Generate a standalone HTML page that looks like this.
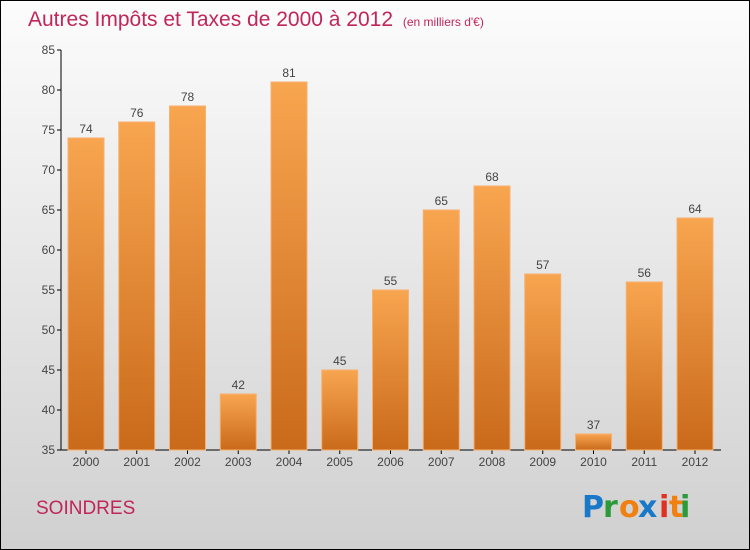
<!DOCTYPE html>
<html><head><meta charset="utf-8"><style>
html,body{margin:0;padding:0}
body{width:750px;height:550px;overflow:hidden;font-family:"Liberation Sans","DejaVu Sans",sans-serif}
#frame{position:absolute;left:0;top:0;width:748px;height:548px;border:1px solid #000;background:linear-gradient(#fcfcfc,#d0d0d0)}
</style></head><body>
<div id="frame"></div>
<svg id="chart" width="750" height="550" style="position:absolute;left:0;top:0">
<defs>
<linearGradient id="bg" x1="0" y1="0" x2="0" y2="1"><stop offset="0" stop-color="#f8a550"/><stop offset="1" stop-color="#c96a1a"/></linearGradient>
</defs>
<text x="28" y="26" font-size="21" fill="#c0265a">Autres Impôts et Taxes de 2000 à 2012 <tspan font-size="12" dx="4">(en milliers d'€)</tspan></text>
<text x="36" y="514" font-size="19" fill="#c0265a">SOINDRES</text>
<g font-size="30" font-weight="bold" font-family="'DejaVu Sans',sans-serif">
<text x="582" y="517" fill="#1a78c8">P</text><text x="603" y="517" fill="#2a9a3a">r</text><text x="619" y="517" fill="#f08010">o</text><text x="638" y="517" fill="#1a78c8">x</text><text x="659" y="517" fill="#e03020">i</text><text x="669" y="517" fill="#f08010">t</text><text x="680" y="517" fill="#2a9a3a">i</text>
</g>
<g id="axes"></g><g id="bars"></g>
</svg>
<script>
const categories=["2000","2001","2002","2003","2004","2005","2006","2007","2008","2009","2010","2011","2012"];
const values=[74,76,78,42,81,45,55,65,68,57,37,56,64];
const yTicks=[35,40,45,50,55,60,65,70,75,80,85];
const NS="http://www.w3.org/2000/svg";
const y0=450,yTop=50,vMin=35,vMax=85;
function y(v){return y0-(v-vMin)/(vMax-vMin)*(y0-yTop);}
function x(i){return 86+i*50.75;}
function mk(t,a,p){const e=document.createElementNS(NS,t);for(const k in a)e.setAttribute(k,a[k]);p.appendChild(e);return e;}
const ax=document.getElementById('axes'),bars=document.getElementById('bars');
const yl=mk('line',{x1:61,y1:yTop,x2:61,y2:y0,stroke:'#000'},ax);


const xl=mk('line',{x1:61,y1:y0,x2:721,y2:y0,stroke:'#000'},ax);


yTicks.forEach(v=>{
 mk('line',{x1:57,y1:y(v),x2:61,y2:y(v),stroke:'#000'},ax);
 const t=mk('text',{x:55,y:y(v)+4,'text-anchor':'end','font-size':12,fill:'#444'},ax);t.textContent=v;
 
 
});
categories.forEach((c,i)=>{
 const cx=x(i);
 mk('line',{x1:cx,y1:y0,x2:cx,y2:y0+4,stroke:'#000'},ax);
 const t=mk('text',{x:cx,y:y0+16,'text-anchor':'middle','font-size':12,fill:'#444'},ax);t.textContent=c;
 
 
 const r=mk('rect',{x:cx-18,y:y(values[i]),width:36,height:y0-y(values[i]),fill:'url(#bg)',stroke:'#f6b070','stroke-width':1},bars);
 
 
 const l=mk('text',{x:cx,y:y(values[i])-5,'text-anchor':'middle','font-size':12,fill:'#444'},bars);l.textContent=values[i];
 
 
});
</script>
</body></html>
